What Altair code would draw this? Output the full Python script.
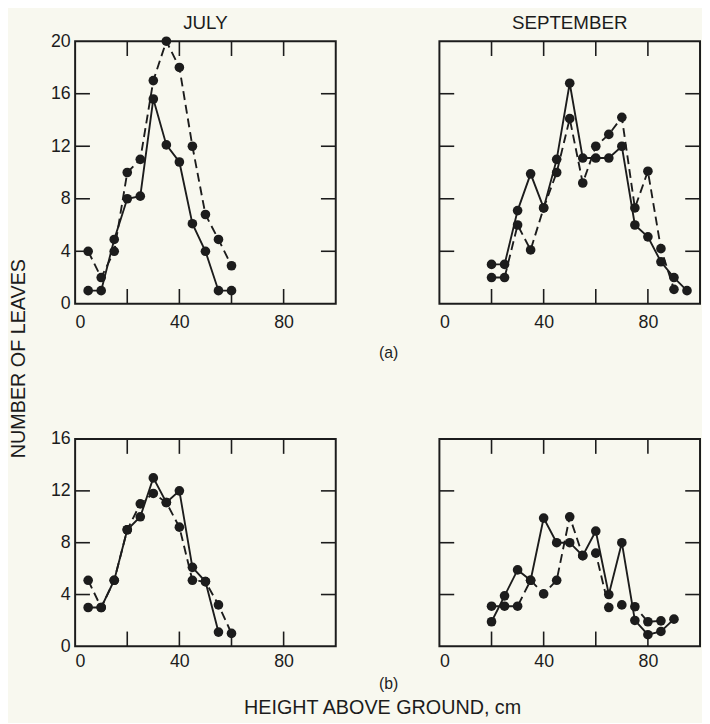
import altair as alt
import pandas as pd

# ---------------- data ----------------
# (a) JULY
july_a_solid_x = [5, 10, 15, 20, 25, 30, 35, 40, 45, 50, 55, 60]
july_a_solid_y = [1, 1, 4.9, 8, 8.2, 15.6, 12.1, 10.8, 6.1, 4, 1, 1]
july_a_dash_x = [5, 10, 15, 20, 25, 30, 35, 40, 45, 50, 55, 60]
july_a_dash_y = [4, 2, 4, 10, 11, 17, 20, 18, 12, 6.8, 4.9, 2.9]

# (a) SEPTEMBER
sept_a_solid_x = [20, 25, 30, 35, 40, 45, 50, 55, 60, 65, 70, 75, 80, 85, 90, 95]
sept_a_solid_y = [3, 3, 7.1, 9.9, 7.3, 11, 16.8, 11.1, 11.1, 11.1, 12, 6, 5.1, 3.2, 2.0, 1.0]
sept_a_dash_x = [20, 25, 30, 35, 40, 45, 50, 55, 60, 65, 70, 75, 80, 85, 90]
sept_a_dash_y = [2, 2, 6, 4.1, 7.3, 10, 14.1, 9.2, 12, 12.9, 14.2, 7.3, 10.1, 4.2, 1.1]

# (b) JULY
july_b_solid_x = [5, 10, 15, 20, 25, 30, 35, 40, 45, 50, 55]
july_b_solid_y = [3, 3, 5.1, 9, 10, 13, 11.1, 12, 6.1, 5, 1.1]
july_b_dash_x = [5, 10, 15, 20, 25, 30, 35, 40, 45, 50, 55, 60]
july_b_dash_y = [5.1, 3, 5.1, 9, 11, 11.8, 11.1, 9.2, 5.1, 5, 3.2, 1.0]

# (b) SEPTEMBER
sept_b_solid_x = [20, 25, 30, 35, 40, 45, 50, 55, 60, 65, 70, 75, 80, 85, 90]
sept_b_solid_y = [1.9, 3.9, 5.9, 5.1, 9.9, 8.0, 8.0, 7.0, 8.9, 4.0, 8.0, 2.0, 0.9, 1.15, 2.1]
sept_b_dash_x = [20, 25, 30, 35, 40, 45, 50, 55, 60, 65, 70, 75, 80, 85]
sept_b_dash_y = [3.1, 3.1, 3.1, 5.1, 4.05, 5.1, 10, 7.0, 7.2, 3.0, 3.2, 3.06, 1.9, 1.97]

x_label_values = [0, 40, 80]
x_tick_values = [20, 40, 60, 80]
top_y_labels = [0, 4, 8, 12, 16, 20]
top_y_ticks = [4, 8, 12, 16]
bot_y_labels = [0, 4, 8, 12, 16]
bot_y_ticks = [4, 8, 12]

# ---------------- style ----------------
INK = "#1c1c1c"
BG = "#f8f8ef"
FONT = "Liberation Sans"
W = 264
H_TOP = 266
H_BOT = 210
TICK = 15


def make_df(sx, sy, dx, dy):
    rows = [{"height": a, "leaves": b, "series": "solid"} for a, b in zip(sx, sy)]
    rows += [{"height": a, "leaves": b, "series": "dashed"} for a, b in zip(dx, dy)]
    return pd.DataFrame(rows)


def panel(sx, sy, dx, dy, ymax, ylabels, yticks, height, left,
          title=None, title_offset=10, xtitle=None, xtitle_kw=None,
          ytitle=None, ytitle_kw=None, label_pad=8):
    df = make_df(sx, sy, dx, dy)
    xscale = alt.Scale(domain=[0, 100], nice=False)
    yscale = alt.Scale(domain=[0, ymax], nice=False)

    xaxis_kw = dict(values=x_label_values, ticks=False, tickSize=0, domain=False,
                    grid=False, labelFontSize=18, labelFont=FONT, labelColor=INK,
                    labelPadding=label_pad, labelAngle=0,
                    title=xtitle if xtitle else None)
    if xtitle_kw:
        xaxis_kw.update(xtitle_kw)
    xaxis = alt.Axis(**xaxis_kw)

    if left:
        yaxis_kw = dict(values=ylabels, ticks=False, tickSize=0, domain=False,
                        grid=False, labelFontSize=18, labelFont=FONT,
                        labelColor=INK, labelPadding=5,
                        title=ytitle if ytitle else None)
        if ytitle_kw:
            yaxis_kw.update(ytitle_kw)
        yaxis = alt.Axis(**yaxis_kw)
    else:
        yaxis = None

    X = alt.X("height:Q", scale=xscale, axis=xaxis)
    Y = alt.Y("leaves:Q", scale=yscale, axis=yaxis)

    base = alt.Chart(df)
    solid = base.transform_filter("datum.series == 'solid'").mark_line(
        color=INK, strokeWidth=1.9).encode(x=X, y=Y, order="height:Q")
    dashed = base.transform_filter("datum.series == 'dashed'").mark_line(
        color=INK, strokeWidth=1.9, strokeDash=[9, 5]).encode(x=X, y=Y, order="height:Q")
    pts = base.mark_circle(size=95, color=INK, opacity=1).encode(x=X, y=Y)

    xt = pd.DataFrame({"height": x_tick_values})
    yt = pd.DataFrame({"leaves": yticks})
    tb = alt.Chart(xt).mark_rule(color=INK, strokeWidth=1.6).encode(
        x=X, y=alt.value(height), y2=alt.value(height - TICK))
    tt = alt.Chart(xt).mark_rule(color=INK, strokeWidth=1.6).encode(
        x=X, y=alt.value(0), y2=alt.value(TICK))
    tl = alt.Chart(yt).mark_rule(color=INK, strokeWidth=1.6).encode(
        y=Y, x=alt.value(0), x2=alt.value(TICK))
    tr = alt.Chart(yt).mark_rule(color=INK, strokeWidth=1.6).encode(
        y=Y, x=alt.value(W), x2=alt.value(W - TICK))

    ch = alt.layer(solid, dashed, pts, tb, tt, tl, tr).properties(width=W, height=height)
    if title:
        ch = ch.properties(title=alt.TitleParams(
            title, fontSize=19, font=FONT, fontWeight="normal", color=INK,
            offset=title_offset, anchor="middle", frame="group"))
    return ch


title_style = dict(titleFontSize=20, titleFont=FONT, titleFontWeight="normal",
                   titleColor=INK, titleAlign="center", titleBaseline="middle")
small_title = dict(titleFontSize=16, titleFont=FONT, titleFontWeight="normal",
                   titleColor=INK, titleAlign="center", titleBaseline="middle")

ja = panel(july_a_solid_x, july_a_solid_y, july_a_dash_x, july_a_dash_y,
           20, top_y_labels, top_y_ticks, H_TOP, True, title="JULY", title_offset=-1,
           xtitle="(a)", xtitle_kw=dict(titleX=W + 53, titleY=49, **small_title),
           ytitle="NUMBER OF LEAVES",
           ytitle_kw=dict(titleX=-57, titleY=321, titleAngle=-90, **title_style),
           label_pad=10)
sa = panel(sept_a_solid_x, sept_a_solid_y, sept_a_dash_x, sept_a_dash_y,
           20, top_y_labels, top_y_ticks, H_TOP, False, title="SEPTEMBER",
           title_offset=8, label_pad=10)
jb = panel(july_b_solid_x, july_b_solid_y, july_b_dash_x, july_b_dash_y,
           16, bot_y_labels, bot_y_ticks, H_BOT, True,
           xtitle="HEIGHT ABOVE GROUND, cm",
           xtitle_kw=dict(titleX=311, titleY=62, **title_style),
           label_pad=6)
sb = panel(sept_b_solid_x, sept_b_solid_y, sept_b_dash_x, sept_b_dash_y,
           16, bot_y_labels, bot_y_ticks, H_BOT, False,
           xtitle="(b)", xtitle_kw=dict(titleX=-52, titleY=38, **small_title),
           label_pad=6)

chart = alt.concat(
    ja, sa, jb, sb, columns=2,
    spacing={"row": 137, "column": 105}, bounds="flush",
).properties(
    padding={"left": 0, "top": 0, "right": 0, "bottom": 0},
    background=BG,
).configure_view(stroke=INK, strokeWidth=2)

chart.save("out.html", embed_options={"renderer": "svg", "actions": False})
